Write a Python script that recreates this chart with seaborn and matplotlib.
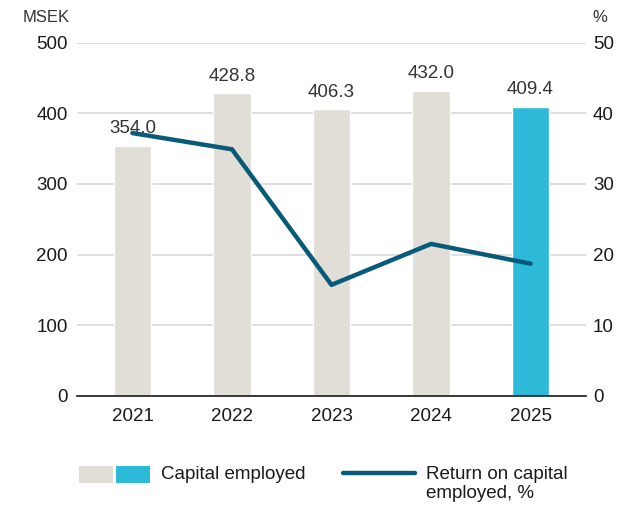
import numpy as np
import matplotlib
matplotlib.use("Agg")
import matplotlib.pyplot as plt
import seaborn as sns
from matplotlib.patches import Patch
from matplotlib.lines import Line2D
from matplotlib.legend_handler import HandlerTuple

# data
years = ["2021", "2022", "2023", "2024", "2025"]
capital_employed = [354.0, 428.8, 406.3, 432.0, 409.4]
roce = [37.2, 34.9, 15.7, 21.5, 18.7]
bar_colors = ["#e1ddd7", "#e1ddd7", "#e1ddd7", "#e1ddd7", "#2db9d8"]
line_color = "#075b79"

sns.set_style("white")
plt.rcParams["font.family"] = ["Liberation Sans", "DejaVu Sans"]

fig = plt.figure(figsize=(6.2, 5.07), dpi=100)
ax = fig.add_axes([77 / 620, 1 - 395.7 / 507, 509 / 620, 353 / 507])

sns.barplot(x=years, y=capital_employed, hue=years, palette=bar_colors,
            legend=False, width=0.38, saturation=1, ax=ax, zorder=2)

# value labels above bars
for i, v in enumerate(capital_employed):
    ax.annotate(f"{v:.1f}", (i, v), xytext=(0, 6), textcoords="offset points",
                ha="center", va="bottom", fontsize=13.5, color="#333333")

ax.set_ylim(0, 500)
ax.set_xlim(-0.557, 4.557)
ax.set_yticks(range(0, 501, 100))
ax.grid(axis="y", color="#d9d9d9", linewidth=1.2, zorder=0)
ax.set_axisbelow(True)
ax.set_xlabel("")
ax.set_ylabel("")
for s in ["top", "right", "left"]:
    ax.spines[s].set_visible(False)
ax.spines["bottom"].set_color("#1a1a1a")
ax.spines["bottom"].set_linewidth(1.2)
ax.tick_params(axis="both", length=0, labelsize=13.5, colors="#1a1a1a")
ax.tick_params(axis="y", pad=6.5)
ax.tick_params(axis="x", pad=9)

ax2 = ax.twinx()
sns.lineplot(x=np.arange(len(years)), y=roce, color=line_color, linewidth=3.2,
             ax=ax2, zorder=5)
ax2.set_ylim(0, 50)
ax2.set_yticks(range(0, 51, 10))
ax2.set_ylabel("")
for s in ["top", "right", "left", "bottom"]:
    ax2.spines[s].set_visible(False)
ax2.tick_params(axis="y", length=0, labelsize=13.5, colors="#1a1a1a", pad=5)

fig.text(23 / 620, 1 - 18 / 507, "MSEK", fontsize=12, color="#333333",
         ha="left", va="center")
fig.text(592 / 620, 1 - 18 / 507, "%", fontsize=12, color="#333333",
         ha="left", va="center")

# legend
grey = Patch(facecolor=bar_colors[0], edgecolor="none")
cyan = Patch(facecolor=bar_colors[-1], edgecolor="none")
ln = Line2D([], [], color=line_color, linewidth=3.2, solid_capstyle="round")
leg = fig.legend([(grey, cyan), ln],
                 ["Capital employed", "Return on capital\nemployed, %"],
                 handler_map={tuple: HandlerTuple(ndivide=None, pad=0.16)},
                 loc="upper left", bbox_to_anchor=(79 / 620, 1 - 466 / 507),
                 ncol=2, frameon=False, fontsize=13.5, borderpad=0,
                 borderaxespad=0, handlelength=3.8, handleheight=1.0,
                 handletextpad=0.59, columnspacing=2.0, labelcolor="#1a1a1a")
leg.get_texts()[1].set_linespacing(1.15)
leg._legend_handle_box.align = "top"
for col in leg._legend_handle_box.get_children():
    col.align = "left"
    for item in col.get_children():
        item.align = "top"

fig.savefig("out.png", dpi=100)
